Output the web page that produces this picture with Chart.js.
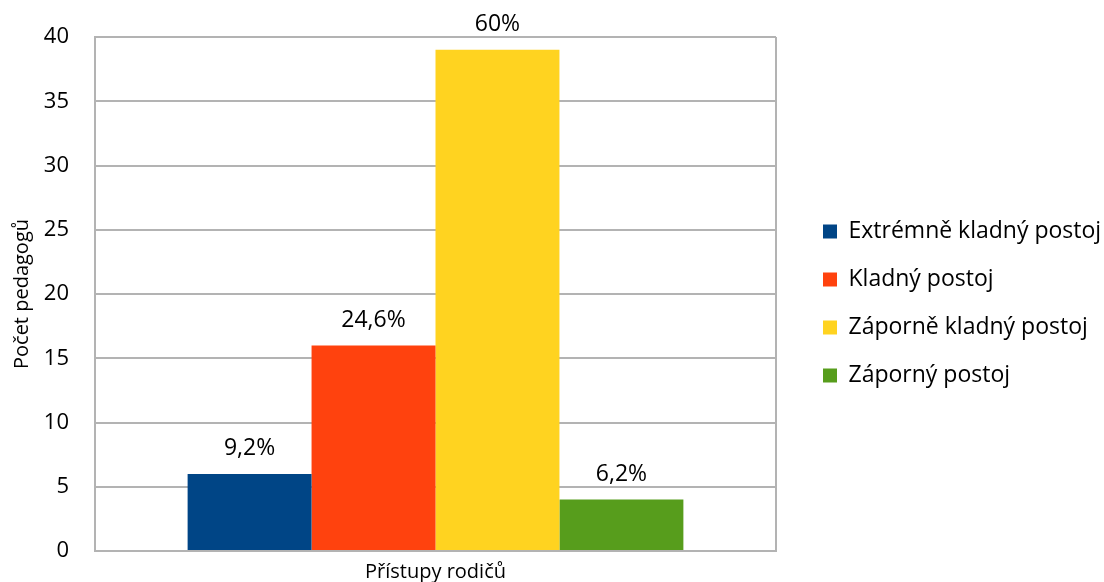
<!DOCTYPE html>
<html>
<head>
<meta charset="utf-8">
<script src="https://cdn.jsdelivr.net/npm/chart.js@4/dist/chart.umd.min.js"></script>
<style>
  html, body { margin: 0; padding: 0; background: #ffffff; overflow: hidden; }
  #wrap { width: 1104px; height: 582px; position: relative; }
  #c { display: block; }
</style>
</head>
<body>
<div id="wrap"><canvas id="c"></canvas></div>
<script>
// Postoje rodičů k pedagogům (počet pedagogů)
const categories = ['Přístupy rodičů'];
const seriesNames = ['Extrémně kladný postoj', 'Kladný postoj', 'Záporně kladný postoj', 'Záporný postoj'];
const seriesValues = [6, 16, 39, 4];
const seriesColors = ['#004586', '#ff420e', '#ffd320', '#579d1c'];
const yTicks = [0, 5, 10, 15, 20, 25, 30, 35, 40];

const FONT = "'Open Sans', 'DejaVu Sans', sans-serif";
const total = seriesValues.reduce((a, b) => a + b, 0);

function pctLabel(v) {
  const s = (v / total * 100).toFixed(1).replace('.', ',');
  return (s.endsWith(',0') ? s.slice(0, -2) : s) + '%';
}

// Percent share written above each bar
const barLabels = {
  id: 'barLabels',
  afterDatasetsDraw(chart) {
    const ctx = chart.ctx;
    ctx.save();
    ctx.font = '23px ' + FONT;
    ctx.fillStyle = '#000000';
    ctx.textAlign = 'center';
    ctx.textBaseline = 'middle';
    chart.data.datasets.forEach((ds, i) => {
      const meta = chart.getDatasetMeta(i);
      meta.data.forEach((bar, j) => {
        const { x, y } = bar.getProps(['x', 'y'], true);
        ctx.fillText(pctLabel(ds.data[j]), x, y - 25);
      });
    });
    ctx.restore();
  }
};

// Fixed legend column on the right
const legendBox = {
  id: 'legendBox',
  beforeLayout(chart) {
    const lg = chart.legend;
    if (lg && !lg._fixedFit) {
      const fit = lg.fit.bind(lg);
      lg.fit = function () { fit(); this.width = 328; };
      lg._fixedFit = true;
    }
  },
  afterLayout(chart) {
    const lg = chart.legend;
    if (!lg) return;
    lg.left += 22; lg.right += 22;
    lg.top -= 6; lg.bottom -= 6;
  }
};

new Chart(document.getElementById('c'), {
  type: 'bar',
  data: {
    labels: categories,
    datasets: seriesNames.map((name, i) => ({
      label: name,
      data: [seriesValues[i]],
      backgroundColor: seriesColors[i],
      borderWidth: 0,
      categoryPercentage: 0.728,
      barPercentage: 1.0
    }))
  },
  options: {
    responsive: true,
    maintainAspectRatio: false,
    animation: false,
    devicePixelRatio: 1,
    layout: { padding: { top: 37, right: 0, bottom: 0, left: 0 } },
    plugins: {
      tooltip: { enabled: false },
      legend: {
        position: 'right',
        align: 'center',
        labels: {
          boxWidth: 14,
          boxHeight: 14,
          padding: 25,
          color: '#000000',
          font: { family: FONT, size: 23 }
        }
      }
    },
    scales: {
      x: {
        grid: { display: true, color: '#b3b3b3', lineWidth: 2, drawTicks: false },
        border: { display: true, color: '#b3b3b3', width: 2 },
        ticks: { color: '#000000', font: { family: FONT, size: 20 }, padding: 9 },
        afterFit(scale) { scale.height = 31; }
      },
      y: {
        min: 0,
        max: 40,
        afterBuildTicks(scale) { scale.ticks = yTicks.map(v => ({ value: v })); },
        grid: {
          color: '#b3b3b3',
          lineWidth: 2,
          drawTicks: true,
          tickLength: 23,
          tickColor: 'rgba(0,0,0,0)'
        },
        border: { display: true, color: '#b3b3b3', width: 2 },
        ticks: { color: '#000000', font: { family: FONT, size: 22 }, padding: 3 },
        title: {
          display: true,
          text: 'Počet pedagogů',
          color: '#000000',
          font: { family: FONT, size: 20 },
          padding: { top: 10, bottom: 0 }
        },
        afterFit(scale) { scale.width = 95; }
      }
    }
  },
  plugins: [barLabels, legendBox]
});
</script>
</body>
</html>
